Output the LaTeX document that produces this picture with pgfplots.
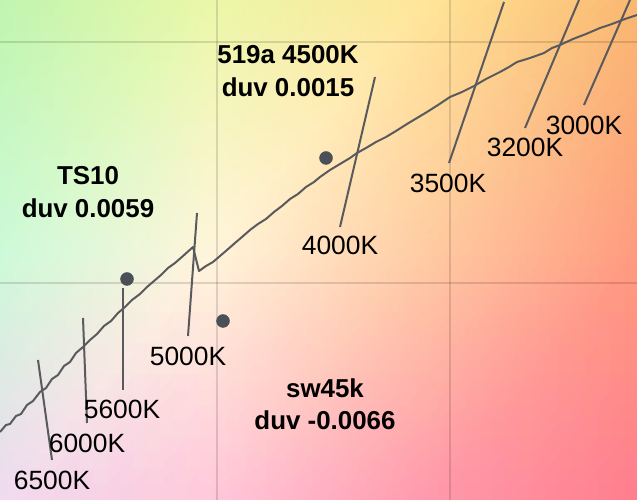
\documentclass[border=0pt]{standalone}
\usepackage{pgfplots}
\pgfplotsset{compat=1.18}
\usepackage{fontspec}
\setmainfont{Liberation Sans}
\definecolor{locus}{RGB}{88,90,94}
\definecolor{dotc}{RGB}{75,80,86}
\begin{document}
\begin{tikzpicture}
\begin{axis}[width=637bp,height=500bp,scale only axis,
  xmin=0,xmax=637,ymin=0,ymax=500,y dir=reverse,
  axis line style={draw=none},ticks=none,clip=true]
% background gradient
\addplot[patch,patch type=rectangle,shader=interp,mesh/color input=explicit,point meta=explicit symbolic]
table[meta=c]{
x y c
0 0 rgb=0.75,0.96,0.69
212 0 rgb=0.92,0.97,0.66
212 250 rgb=1.0,0.96,0.86
0 250 rgb=0.80,0.98,0.85
212 0 rgb=0.92,0.97,0.66
425 0 rgb=1.0,0.90,0.60
425 250 rgb=1.0,0.80,0.64
212 250 rgb=1.0,0.96,0.86
425 0 rgb=1.0,0.90,0.60
637 0 rgb=0.98,0.72,0.44
637 250 rgb=1.0,0.61,0.50
425 250 rgb=1.0,0.80,0.64
0 250 rgb=0.80,0.98,0.85
212 250 rgb=1.0,0.96,0.86
212 500 rgb=1.0,0.78,0.86
0 500 rgb=0.94,0.85,0.94
212 250 rgb=1.0,0.96,0.86
425 250 rgb=1.0,0.80,0.64
425 500 rgb=1.0,0.60,0.68
212 500 rgb=1.0,0.78,0.86
425 250 rgb=1.0,0.80,0.64
637 250 rgb=1.0,0.61,0.50
637 500 rgb=1.0,0.49,0.56
425 500 rgb=1.0,0.60,0.68
};
% grid
\addplot[black,opacity=0.13,line width=1.5bp] coordinates {(217,0) (217,500)};
\addplot[black,opacity=0.13,line width=1.5bp] coordinates {(450,0) (450,500)};
\addplot[black,opacity=0.13,line width=1.5bp] coordinates {(0,42) (637,42)};
\addplot[black,opacity=0.13,line width=1.5bp] coordinates {(0,283) (637,283)};
% isotherms
\addplot[locus,line width=2bp] coordinates {(38,360) (52,460)};
\addplot[locus,line width=2bp] coordinates {(83,318) (87,423)};
\addplot[locus,line width=2bp] coordinates {(123,288) (123,390)};
\addplot[locus,line width=2bp] coordinates {(197,213) (188,336)};
\addplot[locus,line width=2bp] coordinates {(375,77) (340,227)};
\addplot[locus,line width=2bp] coordinates {(504,2) (449,163)};
\addplot[locus,line width=2bp] coordinates {(579,0) (525,128)};
\addplot[locus,line width=2bp] coordinates {(630,0) (584,105)};
% locus
\addplot[locus,line width=2bp,line join=round] coordinates {
(0,432) (6,425) (10,424) (16,416) (21,414) (27,405) (33,401) (40,392) (46,388)
(52,379) (58,375) (64,366) (70,362) (76,353) (83,347) (90,340) (97,334) (104,326)
(111,321) (118,313) (125,307) (132,300) (140,294) (147,287) (154,281) (161,275)
(168,268) (175,263) (183,256) (193,247) (199,271) (206,266) (213,262) (220,256)
(227,250) (235,243) (242,237) (250,230) (258,224) (266,219) (274,212) (282,206)
(290,199) (298,194) (306,187) (314,182) (320,177) (330,170) (340,164) (350,158)
(357,153) (366,148) (376,142) (386,137) (396,131) (407,124) (417,118) (427,112)
(438,105) (450,97) (462,92) (474,86) (486,79) (500,72) (509,67) (517,62) (530,58)
(544,53) (552,48) (560,45) (573,39) (586,34) (600,28) (612,24) (625,19) (637,15)
};
% samples
\addplot[only marks,mark=*,mark size=6.5bp,dotc] coordinates {(127,279) (223,321) (326,158)};
% labels
\tikzset{lab/.style={font=\fontsize{26.5}{30}\selectfont,text=black,inner sep=0pt},
  blab/.style={font=\fontsize{26}{30}\selectfont\bfseries,text=black,inner sep=0pt}}
\node[lab] at (axis cs:52,480) {6500K};
\node[lab] at (axis cs:87,443) {6000K};
\node[lab] at (axis cs:122,409) {5600K};
\node[lab] at (axis cs:188,356) {5000K};
\node[lab] at (axis cs:340,245) {4000K};
\node[lab] at (axis cs:448,183) {3500K};
\node[lab] at (axis cs:525,147) {3200K};
\node[lab] at (axis cs:584,125) {3000K};
\node[blab] at (axis cs:288,55) {519a 4500K};
\node[blab] at (axis cs:288,87) {duv 0.0015};
\node[blab] at (axis cs:88,176) {TS10};
\node[blab] at (axis cs:88,208) {duv 0.0059};
\node[blab] at (axis cs:325,388) {sw45k};
\node[blab] at (axis cs:325,420) {duv -0.0066};
\end{axis}
\end{tikzpicture}
\end{document}
